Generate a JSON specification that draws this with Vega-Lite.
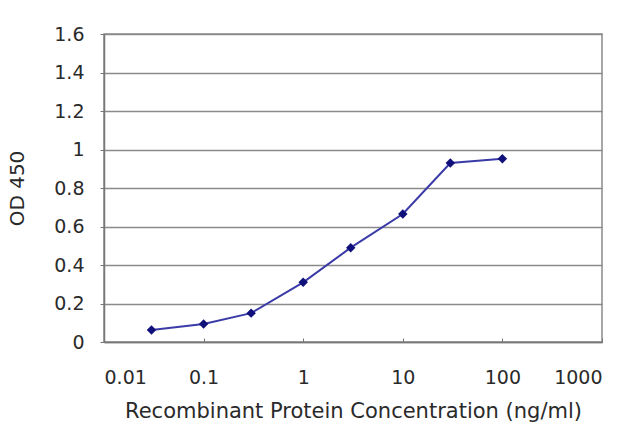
{
  "$schema": "https://vega.github.io/schema/vega-lite/v6.json",
  "width": 498,
  "height": 308,
  "autosize": {"type": "none"},
  "padding": {"left": 104, "top": 34, "right": 38, "bottom": 85},
  "background": "white",
  "config": {
    "view": {"stroke": "#8a8a8a", "strokeWidth": 1.5},
    "font": "DejaVu Sans"
  },
  "data": {
    "values": [
      {"conc": 0.03, "od": 0.062},
      {"conc": 0.1, "od": 0.094},
      {"conc": 0.3, "od": 0.15},
      {"conc": 1, "od": 0.31},
      {"conc": 3, "od": 0.49},
      {"conc": 10, "od": 0.665},
      {"conc": 30, "od": 0.93},
      {"conc": 100, "od": 0.952}
    ]
  },
  "encoding": {
    "x": {
      "field": "conc",
      "type": "quantitative",
      "scale": {"type": "log", "domain": [0.01, 1000], "nice": false},
      "axis": {
        "title": "Recombinant Protein Concentration (ng/ml)",
        "values": [0.01, 0.1, 1, 10, 100, 1000],
        "format": "~g",
        "grid": false,
        "domainColor": "#777777",
        "domainWidth": 1.5,
        "tickColor": "#777777",
        "tickSize": -4,
        "labelFontSize": 19,
        "labelColor": "#2a2a2a",
        "labelPadding": 30,
        "titleFontSize": 21,
        "titleFontWeight": "normal",
        "titleColor": "#2a2a2a",
        "titlePadding": 13
      }
    },
    "y": {
      "field": "od",
      "type": "quantitative",
      "scale": {"domain": [0, 1.6], "nice": false},
      "axis": {
        "title": "OD 450",
        "values": [0, 0.2, 0.4, 0.6, 0.8, 1, 1.2, 1.4, 1.6],
        "format": "~g",
        "grid": true,
        "gridColor": "#8a8a8a",
        "gridWidth": 1.5,
        "domainColor": "#777777",
        "domainWidth": 1.5,
        "tickColor": "#777777",
        "tickSize": 4,
        "labelFontSize": 19,
        "labelColor": "#2a2a2a",
        "labelPadding": 16,
        "titleFontSize": 20,
        "titleFontWeight": "normal",
        "titleColor": "#2a2a2a",
        "titlePadding": 26
      }
    }
  },
  "layer": [
    {
      "mark": {"type": "line", "color": "#3b3ba8", "strokeWidth": 2}
    },
    {
      "mark": {"type": "point", "shape": "diamond", "filled": true, "color": "#10107a", "size": 90, "opacity": 1}
    }
  ]
}
